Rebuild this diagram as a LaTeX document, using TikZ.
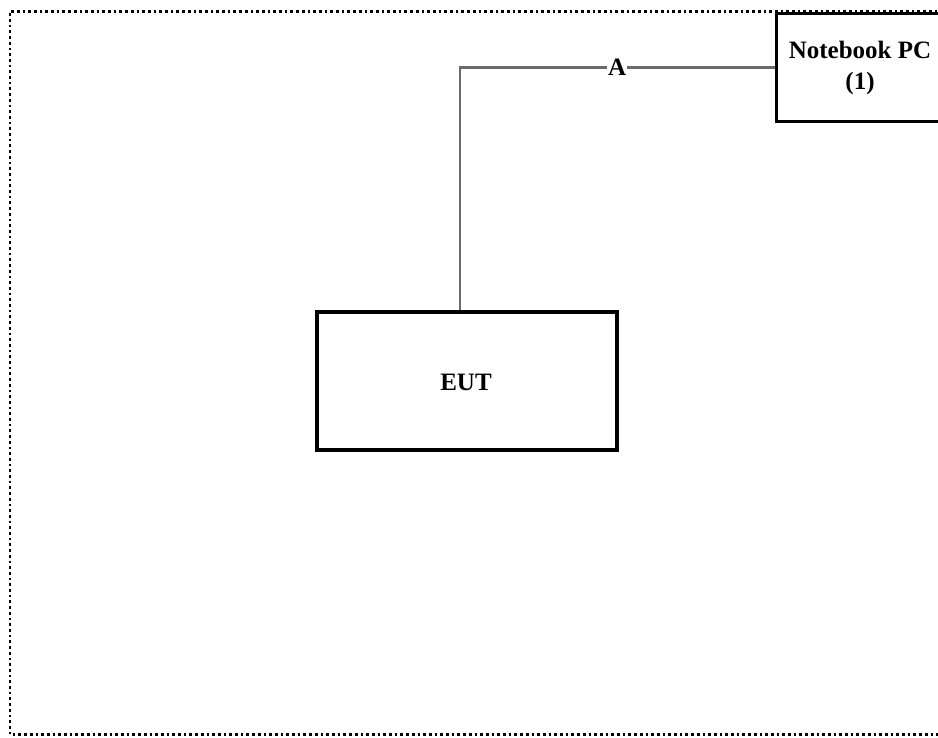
\documentclass[tikz,border=0pt]{standalone}
\usepackage{fontspec}
\setmainfont{Liberation Serif}

\begin{document}
\begin{tikzpicture}[x=1pt, y=-1pt,
                    box/.style={rectangle, draw=black, line width=3.2pt, inner sep=0pt},
                    cable/.style={draw=black!58, line width=2.8pt},
                    lbl/.style={font=\fontsize{25}{31}\selectfont\bfseries, align=center}]
  \useasboundingbox (0,0) rectangle (938,738);
  % test area
  \draw[line width=2.7pt, dash pattern=on 2.7pt off 3pt] (960,11.5) -- (10,11.5) -- (10,734.5) -- (960,734.5);
  % units
  \node[box, minimum width=300pt, minimum height=138pt] (eut) at (467,381) {};
  \node[lbl] (eutlabel) at (466,382) {EUT};
  \node[box, fill=white, anchor=north west, minimum width=170pt, minimum height=108pt] (pc) at (774.5,12) {};
  \node[lbl] (pclabel) at (860,67.5) {Notebook PC\\(1)};
  % cable
  \draw[cable] ([xshift=-7pt]eut.north) |- node[pos=0.75, fill=white, inner sep=1pt, lbl] {A} (pc.west);
\end{tikzpicture}
\end{document}
